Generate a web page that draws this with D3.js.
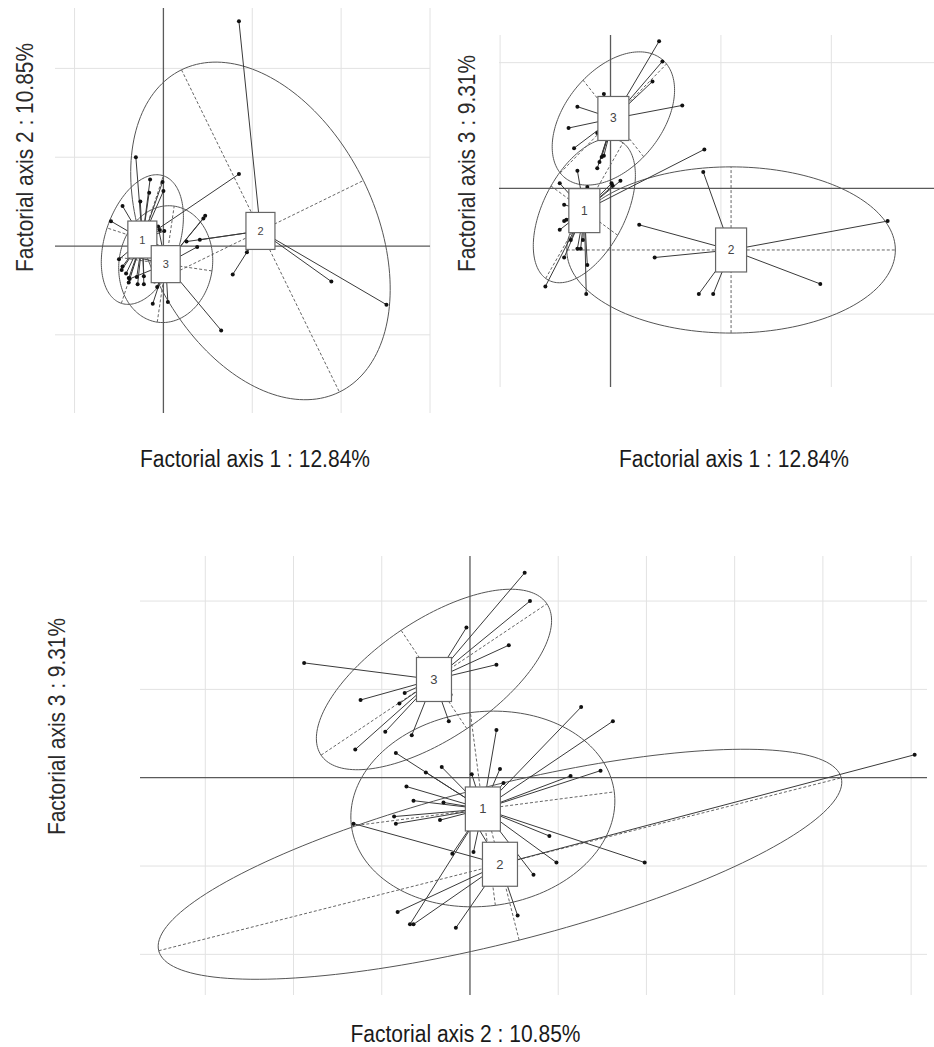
<!DOCTYPE html>
<html>
<head>
<meta charset="utf-8">
<script src="https://cdn.jsdelivr.net/npm/d3@7"></script>
<style>
  body { margin: 0; background: #fff; }
</style>
</head>
<body>
<script>
// class centres on the three factorial axes (class 1, 2, 3)
const classNames = ["1", "2", "3"];
const centreAx1 = [-0.237, 1.092, 0.026];
const centreAx2 = [0.073, 0.17, -0.204];
const centreAx3 = [-0.177, -0.49, 0.556];

// individuals, axis 1 x axis 2 : [x, y, class]
const pts12 = [
  [-0.31, 1.00, 1], [-0.15, 0.75, 1], [-0.16, 0.60, 1], [-0.26, 0.50, 1], [-0.46, 0.45, 1],
  [-0.59, 0.28, 1], [-0.04, 0.18, 1], [0.01, 0.17, 1], [0.85, 0.81, 1], [-0.46, -0.23, 1],
  [-0.47, -0.27, 1], [-0.42, -0.31, 1], [-0.39, -0.36, 1], [-0.30, -0.35, 1], [-0.22, -0.34, 1],
  [-0.39, -0.41, 1], [-0.29, -0.43, 1], [-0.22, -0.43, 1], [-0.50, -0.15, 1], [0.00, 0.62, 1],
  [-0.01, 0.72, 1],
  [0.85, 2.53, 2], [0.94, -0.07, 2], [0.78, -0.32, 2], [1.89, -0.40, 2], [2.51, -0.66, 2],
  [0.41, 0.07, 2], [0.26, 0.05, 2],
  [0.47, 0.34, 3], [0.45, 0.31, 3], [0.38, -0.01, 3], [0.65, -0.95, 3], [-0.30, 0.15, 3],
  [-0.06, 0.22, 3], [-0.38, -0.37, 3], [-0.33, -0.12, 3], [-0.07, -0.46, 3], [-0.06, -0.33, 3],
  [-0.12, -0.65, 3], [0.05, -0.63, 3], [-0.10, -0.40, 3]
];

// individuals, axis 1 x axis 3
const pts13 = [
  [0.85, 0.31, 1], [-0.30, 0.14, 1], [-0.46, 0.04, 1], [-0.42, -0.13, 1], [-0.40, -0.25, 1],
  [-0.42, -0.26, 1], [-0.46, -0.33, 1], [-0.59, -0.78, 1], [-0.42, -0.55, 1], [-0.30, -0.48, 1],
  [-0.27, -0.48, 1], [-0.21, -0.61, 1], [-0.22, -0.84, 1], [-0.36, -0.41, 1], [-0.25, -0.41, 1],
  [0.09, 0.06, 1], [0.01, 0.04, 1], [0.02, 0.02, 1], [-0.21, 0.01, 1],
  [0.84, 0.13, 2], [2.51, -0.26, 2], [0.26, -0.29, 2], [0.40, -0.55, 2], [1.90, -0.76, 2],
  [0.80, -0.84, 2], [0.93, -0.84, 2],
  [0.44, 1.17, 3], [0.47, 1.01, 3], [0.38, 0.85, 3], [0.65, 0.66, 3], [-0.30, 0.65, 3],
  [-0.38, 0.48, 3], [-0.33, 0.32, 3], [-0.06, 0.75, 3], [-0.12, 0.44, 3], [-0.08, 0.25, 3],
  [-0.06, 0.26, 3], [-0.12, 0.16, 3], [-0.10, 0.21, 3]
];

// individuals, axis 2 x axis 3
const pts23 = [
  [0.63, 0.40, 1], [0.81, 0.32, 1], [0.15, 0.27, 1], [0.17, 0.05, 1], [0.01, 0.02, 1],
  [0.19, -0.03, 1], [0.57, 0.01, 1], [0.74, 0.04, 1], [0.45, -0.33, 1], [0.49, -0.48, 1],
  [0.99, -0.48, 1], [0.36, -0.55, 1], [-0.10, -0.43, 1], [0.02, -0.42, 1], [-0.42, 0.14, 1],
  [-0.25, 0.03, 1], [-0.16, 0.06, 1], [-0.36, -0.05, 1], [-0.32, -0.13, 1], [-0.15, -0.14, 1],
  [-0.43, -0.22, 1], [-0.42, -0.26, 1], [-0.17, -0.24, 1], [-0.34, -0.83, 1],
  [2.52, 0.13, 2], [0.27, -0.78, 2], [-0.66, -0.26, 2], [-0.41, -0.76, 2], [-0.32, -0.83, 2],
  [-0.08, -0.85, 2], [0.05, -0.29, 2],
  [-0.94, 0.65, 3], [-0.62, 0.44, 3], [-0.37, 0.48, 3], [-0.40, 0.42, 3], [-0.48, 0.26, 3],
  [-0.65, 0.16, 3], [-0.33, 0.24, 3], [-0.12, 0.32, 3], [-0.11, 0.47, 3], [0.31, 1.16, 3],
  [0.34, 1.00, 3], [-0.02, 0.85, 3], [0.22, 0.75, 3], [0.15, 0.64, 3]
];

// inertia ellipses per class: [semi axis a, semi axis b, angle of a in degrees]
const ell12 = [[0.756, 0.418, 71.8], [2.02, 1.29, -63.9], [0.66, 0.526, 81.7]];
const ell13 = [[0.643, 0.36, 57], [1.488, 0.661, 0], [0.648, 0.41, 42]];
const ell23 = [[0.751, 0.55, 7.4], [1.995, 0.443, 14.2], [0.77, 0.335, 33.8]];

const axisLabels = ["Factorial axis 1 : 12.84%", "Factorial axis 2 : 10.85%", "Factorial axis 3 : 9.31%"];

const W = 934, H = 1047;
const svg = d3.select("body").append("svg").attr("width", W).attr("height", H);

const panels = [
  { pts: pts12, ell: ell12, cx: centreAx1, cy: centreAx2, d: 1,
    xDom: [-1.22, 3.0], xRange: [55, 430], yDom: [-1.88, 2.68], yRange: [413, 8],
    box: [29, 37], fs: 11,
    xLab: axisLabels[0], xLabPos: [255, 467], yLab: axisLabels[1], yLabPos: [33, 157.5], yLen: 229 },
  { pts: pts13, ell: ell13, cx: centreAx1, cy: centreAx3, d: 1,
    xDom: [-1.01, 2.93], xRange: [499, 934], yDom: [-1.58, 1.22], yRange: [387, 35],
    box: [31, 44], fs: 12,
    xLab: axisLabels[0], xLabPos: [734, 467], yLab: axisLabels[2], yLabPos: [475, 163.5], yLen: 217 },
  { pts: pts23, ell: ell23, cx: centreAx2, cy: centreAx3, d: 0.5,
    xDom: [-1.87, 2.59], xRange: [140, 927], yDom: [-1.23, 1.255], yRange: [995, 556],
    box: [35, 44], fs: 13,
    xLab: axisLabels[1], xLabPos: [465.5, 1042], yLab: axisLabels[2], yLabPos: [65, 726.5], yLen: 217 }
];

function ellipsePoints(cx, cy, a, b, ang) {
  const th = ang * Math.PI / 180;
  return d3.range(0, 361, 2).map(t => {
    t = t * Math.PI / 180;
    const u = a * Math.cos(t), v = b * Math.sin(t);
    return [cx + u * Math.cos(th) - v * Math.sin(th), cy + u * Math.sin(th) + v * Math.cos(th)];
  });
}

function drawPanel(p) {
  const x = d3.scaleLinear().domain(p.xDom).range(p.xRange);
  const y = d3.scaleLinear().domain(p.yDom).range(p.yRange);
  const g = svg.append("g");

  // grid
  const xk = d3.range(Math.ceil(p.xDom[0] / p.d - 1e-6), Math.floor(p.xDom[1] / p.d + 1e-6) + 1);
  const yk = d3.range(Math.ceil(p.yDom[0] / p.d - 1e-6), Math.floor(p.yDom[1] / p.d + 1e-6) + 1);
  g.selectAll(".gx").data(xk.filter(k => k !== 0)).enter().append("line")
    .attr("x1", k => x(k * p.d)).attr("x2", k => x(k * p.d))
    .attr("y1", y(p.yDom[0])).attr("y2", y(p.yDom[1]))
    .attr("stroke", "#e2e2e2").attr("stroke-width", 1);
  g.selectAll(".gy").data(yk.filter(k => k !== 0)).enter().append("line")
    .attr("y1", k => y(k * p.d)).attr("y2", k => y(k * p.d))
    .attr("x1", x(p.xDom[0])).attr("x2", x(p.xDom[1]))
    .attr("stroke", "#e2e2e2").attr("stroke-width", 1);
  // axes through origin
  g.append("line").attr("x1", x(0)).attr("x2", x(0)).attr("y1", y(p.yDom[0])).attr("y2", y(p.yDom[1]))
    .attr("stroke", "#5a5a5a").attr("stroke-width", 1.3);
  g.append("line").attr("y1", y(0)).attr("y2", y(0)).attr("x1", x(p.xDom[0])).attr("x2", x(p.xDom[1]))
    .attr("stroke", "#5a5a5a").attr("stroke-width", 1.3);

  const line = d3.line().x(d => x(d[0])).y(d => y(d[1]));

  // ellipses and their axes
  p.ell.forEach((e, i) => {
    const cx = p.cx[i], cy = p.cy[i];
    const [a, b, ang] = e;
    g.append("path").attr("d", line(ellipsePoints(cx, cy, a, b, ang)))
      .attr("fill", "none").attr("stroke", "#555").attr("stroke-width", 1);
    const th = ang * Math.PI / 180;
    const ends = [
      [[cx - a * Math.cos(th), cy - a * Math.sin(th)], [cx + a * Math.cos(th), cy + a * Math.sin(th)]],
      [[cx + b * Math.sin(th), cy - b * Math.cos(th)], [cx - b * Math.sin(th), cy + b * Math.cos(th)]]
    ];
    ends.forEach(s => {
      g.append("path").attr("d", line(s)).attr("fill", "none")
        .attr("stroke", "#666").attr("stroke-width", 1).attr("stroke-dasharray", "3,2");
    });
  });

  // stars: each individual to its class centre
  g.selectAll(".star").data(p.pts).enter().append("line")
    .attr("x1", d => x(p.cx[d[2] - 1])).attr("y1", d => y(p.cy[d[2] - 1]))
    .attr("x2", d => x(d[0])).attr("y2", d => y(d[1]))
    .attr("stroke", "#3a3a3a").attr("stroke-width", 1);

  g.selectAll(".pt").data(p.pts).enter().append("circle")
    .attr("cx", d => x(d[0])).attr("cy", d => y(d[1])).attr("r", 2)
    .attr("fill", "#111");

  // class labels in boxes
  classNames.forEach((c, i) => {
    const bx = x(p.cx[i]), by = y(p.cy[i]);
    g.append("rect").attr("x", bx - p.box[0] / 2).attr("y", by - p.box[1] / 2)
      .attr("width", p.box[0]).attr("height", p.box[1])
      .attr("fill", "#fff").attr("stroke", "#666").attr("stroke-width", 1.2);
    g.append("text").attr("x", bx).attr("y", by).attr("text-anchor", "middle")
      .attr("dominant-baseline", "central").attr("font-family", "Liberation Sans, Arial, sans-serif")
      .attr("font-size", p.fs).attr("fill", "#444").text(c);
  });

  // axis titles
  svg.append("text").attr("x", p.xLabPos[0]).attr("y", p.xLabPos[1])
    .attr("text-anchor", "middle")
    .attr("font-family", "Liberation Sans Narrow, Liberation Sans, sans-serif").attr("font-size", 23)
    .attr("textLength", 230).attr("lengthAdjust", "spacingAndGlyphs")
    .attr("fill", "#1a1a1a").text(p.xLab);
  svg.append("text").attr("transform", `translate(${p.yLabPos[0]},${p.yLabPos[1]}) rotate(-90)`)
    .attr("text-anchor", "middle")
    .attr("font-family", "Liberation Sans, Arial, sans-serif").attr("font-size", 24)
    .attr("textLength", p.yLen).attr("lengthAdjust", "spacingAndGlyphs")
    .attr("fill", "#2a2a2a").text(p.yLab);
}

panels.forEach(drawPanel);
</script>
</body>
</html>
